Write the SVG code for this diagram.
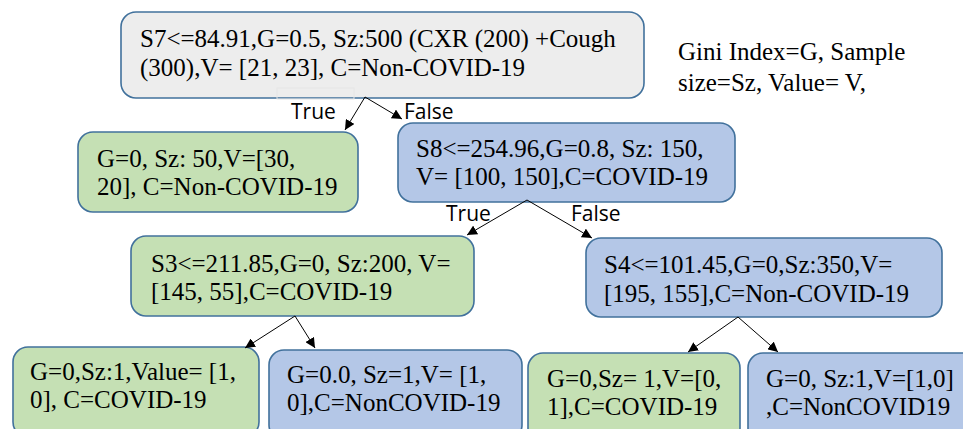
<svg xmlns="http://www.w3.org/2000/svg" width="963" height="429" viewBox="0 0 963 429">
<style>
.box{stroke:#41719c;stroke-width:1.6}
.grey{fill:#ededed}
.green{fill:#c5e0b4}
.blue{fill:#b4c7e7}
.t{font-family:"Liberation Serif","Times New Roman",serif;font-size:25px;fill:#000}
.lbl{font-family:"Open Sans","Liberation Sans",Arial,sans-serif;font-size:21px;fill:#000}
.edge{stroke:#000;stroke-width:1;fill:none;marker-end:url(#ah)}
</style>
<defs>
<marker id="ah" viewBox="0 0 10 10" refX="10" refY="5" markerWidth="10" markerHeight="10" markerUnits="userSpaceOnUse" orient="auto">
<path d="M0,0 L10,5 L0,10 z" fill="#000"/>
</marker>
</defs>
<rect width="963" height="429" fill="#fff"/>
<g id="root">
<rect class="box grey" x="121" y="12" width="523" height="86" rx="15"/>
<rect x="277" y="88" width="77" height="11" fill="none" stroke="#e6e6e6" stroke-width="1"/>
<text class="t" x="140" y="47">S7&lt;=84.91,G=0.5, Sz:500 (CXR (200) +Cough</text>
<text class="t" x="140" y="76">(300),V= [21, 23], C=Non-COVID-19</text>
</g>
<g id="legend">
<text class="t" x="678" y="60">Gini Index=G, Sample</text>
<text class="t" x="678" y="91">size=Sz, Value= V,</text>
</g>
<g id="leaf1">
<rect class="box green" x="78" y="132" width="280" height="80" rx="15"/>
<text class="t" x="97" y="167">G=0, Sz: 50,V=[30,</text>
<text class="t" x="97" y="195">20], C=Non-COVID-19</text>
</g>
<g id="s8">
<rect class="box blue" x="398" y="123" width="337" height="79" rx="15"/>
<text class="t" x="416" y="157">S8&lt;=254.96,G=0.8, Sz: 150,</text>
<text class="t" x="416" y="185">V= [100, 150],C=COVID-19</text>
</g>
<g id="s3">
<rect class="box green" x="131" y="236" width="343" height="80" rx="15"/>
<text class="t" x="151" y="272">S3&lt;=211.85,G=0, Sz:200, V=</text>
<text class="t" x="151" y="300">[145, 55],C=COVID-19</text>
</g>
<g id="s4">
<rect class="box blue" x="586" y="238" width="356" height="79" rx="15"/>
<text class="t" x="604" y="273">S4&lt;=101.45,G=0,Sz:350,V=</text>
<text class="t" x="604" y="302">[195, 155],C=Non-COVID-19</text>
</g>
<g id="leaf2">
<rect class="box green" x="13" y="347" width="246" height="90" rx="15"/>
<text class="t" x="30" y="380">G=0,Sz:1,Value= [1,</text>
<text class="t" x="30" y="408">0], C=COVID-19</text>
</g>
<g id="leaf3">
<rect class="box blue" x="269" y="350" width="253" height="90" rx="15"/>
<text class="t" x="287" y="383">G=0.0, Sz=1,V= [1,</text>
<text class="t" x="287" y="411">0],C=NonCOVID-19</text>
</g>
<g id="leaf4">
<rect class="box green" x="528" y="353" width="212" height="90" rx="15"/>
<text class="t" x="547" y="387">G=0,Sz= 1,V=[0,</text>
<text class="t" x="547" y="415">1],C=COVID-19</text>
</g>
<g id="leaf5">
<rect class="box blue" x="748" y="353" width="240" height="90" rx="15"/>
<text class="t" x="766" y="387">G=0, Sz:1,V=[1,0]</text>
<text class="t" x="766" y="415">,C=NonCOVID19</text>
</g>
<g id="connectors">
<line class="edge" x1="365" y1="97" x2="345" y2="130"/>
<line class="edge" x1="365" y1="97" x2="402" y2="119"/>
<line class="edge" x1="527" y1="200" x2="467" y2="235"/>
<line class="edge" x1="527" y1="200" x2="592" y2="238"/>
<line class="edge" x1="295" y1="316" x2="245" y2="348"/>
<line class="edge" x1="295" y1="316" x2="315" y2="348"/>
<line class="edge" x1="738" y1="317" x2="688" y2="352"/>
<line class="edge" x1="738" y1="317" x2="778" y2="352"/>
<text class="lbl" x="291" y="119">True</text>
<text class="lbl" x="404" y="119">False</text>
<text class="lbl" x="446" y="221">True</text>
<text class="lbl" x="571" y="221">False</text>
</g>
</svg>
